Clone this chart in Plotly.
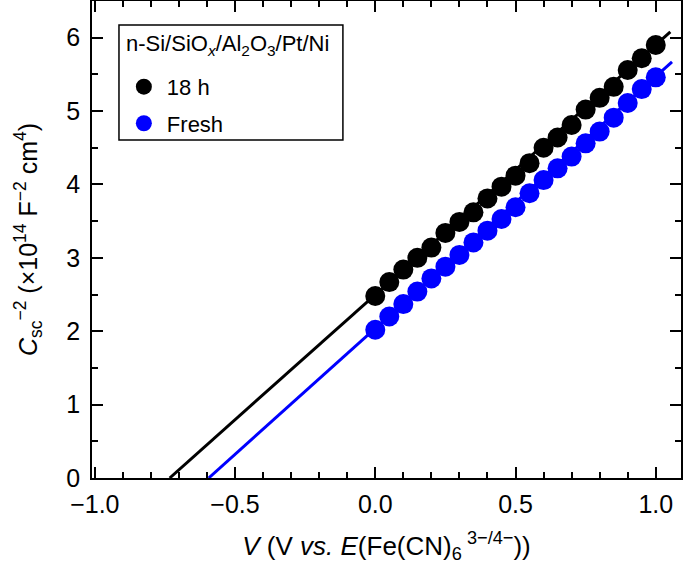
import plotly.graph_objects as go

# ---- data ----
v_points = [0.00, 0.05, 0.10, 0.15, 0.20, 0.25, 0.30, 0.35, 0.40, 0.45, 0.50,
            0.55, 0.60, 0.65, 0.70, 0.75, 0.80, 0.85, 0.90, 0.95, 1.00]
csc_18h = [2.48, 2.67, 2.84, 3.00, 3.14, 3.34, 3.49, 3.62, 3.81, 3.97, 4.12,
           4.29, 4.50, 4.64, 4.81, 5.02, 5.18, 5.33, 5.56, 5.72, 5.90]
csc_fresh = [2.02, 2.20, 2.37, 2.54, 2.72, 2.88, 3.04, 3.21, 3.37, 3.53, 3.69,
             3.88, 4.06, 4.22, 4.38, 4.56, 4.72, 4.91, 5.11, 5.30, 5.46]

# Mott-Schottky fit lines (end points)
fit_18h_x = [-0.733, 1.052]
fit_18h_y = [0.0, 6.08]
fit_fresh_x = [-0.594, 1.058]
fit_fresh_y = [0.0, 5.67]

x_tickvals = [-1.0, -0.5, 0.0, 0.5, 1.0]
y_tickvals = [0, 1, 2, 3, 4, 5, 6]

series_names = ["18 h", "Fresh"]
legend_title = "n-Si/SiO<sub><i>x</i></sub>/Al<sub>2</sub>O<sub>3</sub>/Pt/Ni"
colors = ["#000000", "#0000FF"]

FONT = "Liberation Sans, Arial, Helvetica, sans-serif"

fig = go.Figure()

fig.add_trace(go.Scatter(x=fit_18h_x, y=fit_18h_y, mode="lines",
                         line=dict(color=colors[0], width=3), showlegend=False,
                         hoverinfo="skip"))
fig.add_trace(go.Scatter(x=fit_fresh_x, y=fit_fresh_y, mode="lines",
                         line=dict(color=colors[1], width=3), showlegend=False,
                         hoverinfo="skip"))
fig.add_trace(go.Scatter(x=v_points, y=csc_18h, mode="markers", name=series_names[0],
                         legendgroup="a",
                         marker=dict(color=colors[0], size=20, line=dict(width=0))))
fig.add_trace(go.Scatter(x=v_points, y=csc_fresh, mode="markers", name=series_names[1],
                         legendgroup="b",
                         marker=dict(color=colors[1], size=20, line=dict(width=0))))

axis_common = dict(
    showline=True, linecolor="black", linewidth=1.5, mirror="ticks",
    ticks="inside", tickcolor="black", tickwidth=1.5, ticklen=11,
    showgrid=False, zeroline=False, automargin=False,
    tickfont=dict(family=FONT, size=25, color="black"),
)

fig.update_xaxes(
    **axis_common,
    range=[-1.01, 1.09], tickvals=x_tickvals, tickformat=".1f",
    ticklabelstandoff=3,
    minor=dict(dtick=0.1, tick0=0, ticks="inside", ticklen=6, tickwidth=1.5,
               tickcolor="black", showgrid=False),
    title=dict(text="<i>V</i> (V <i>vs.</i> <i>E</i>(Fe(CN)<sub>6</sub><sup> 3−/4−</sup>))",
               font=dict(family=FONT, size=26, color="black"), standoff=20),
)
fig.update_yaxes(
    **axis_common,
    range=[0, 6.5], tickvals=y_tickvals,
    ticklabelstandoff=5,
    minor=dict(dtick=0.5, tick0=0, ticks="inside", ticklen=6, tickwidth=1.5,
               tickcolor="black", showgrid=False),
    title=dict(text="<i>C</i><sub>sc</sub><sup>−2</sup> (×10<sup>14</sup> F<sup>−2</sup> cm<sup>4</sup>)",
               font=dict(family=FONT, size=25, color="black"), standoff=22),
)

# legend frame and title (frame drawn as a shape so the title spacing can match)
fig.add_shape(type="rect", xref="paper", yref="paper",
              x0=0.0458, x1=0.426, y0=0.7086, y1=0.9497,
              line=dict(color="black", width=1.5), fillcolor="white", layer="above")
fig.add_annotation(text=legend_title, xref="paper", yref="paper",
                   x=0.0543, y=0.908, xanchor="left", yanchor="middle",
                   showarrow=False, font=dict(family=FONT, size=22, color="black"))

fig.update_layout(
    width=685, height=569,
    margin=dict(l=92, r=4, t=1, b=91),
    plot_bgcolor="white", paper_bgcolor="white",
    font=dict(family=FONT, size=22, color="black"),
    legend=dict(
        x=0.049, y=0.864, xanchor="left", yanchor="top",
        borderwidth=0, bgcolor="rgba(0,0,0,0)",
        font=dict(family=FONT, size=22, color="black"),
        itemsizing="trace", tracegroupgap=5, itemwidth=36,
    ),
)

fig.write_html("out.html",
               config={"displayModeBar": False},
               post_script="document.body.style.margin='0';document.body.style.padding='0';")
